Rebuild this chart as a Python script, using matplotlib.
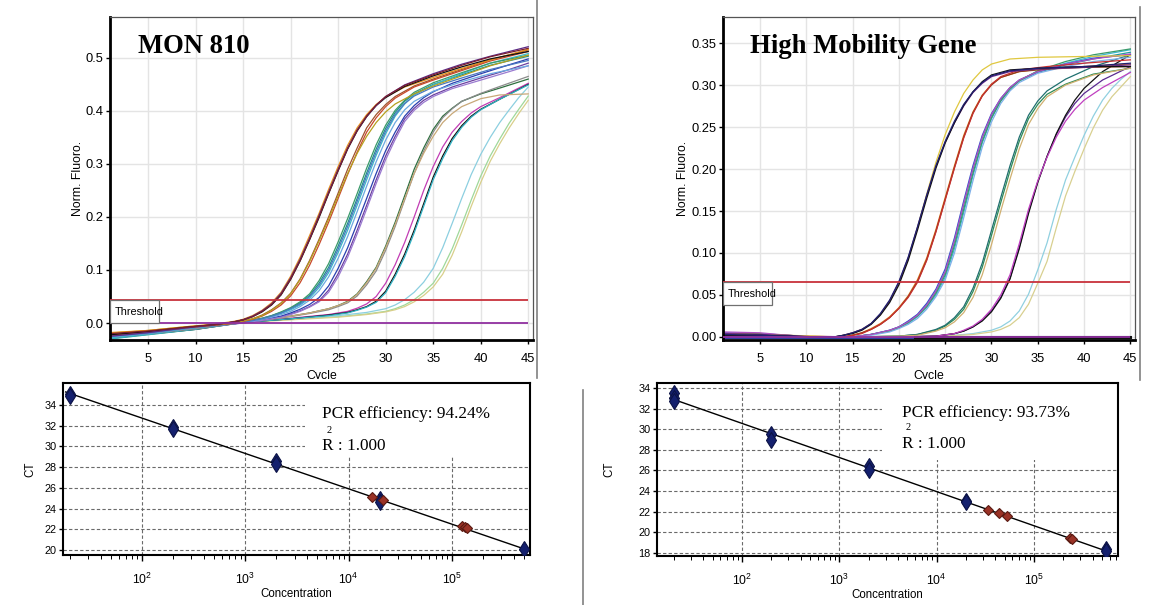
import numpy as np
import matplotlib
matplotlib.use("Agg")
import matplotlib.pyplot as plt
from matplotlib import font_manager
from matplotlib.patches import Rectangle
from matplotlib.lines import Line2D
from matplotlib.transforms import Bbox, TransformedBbox, blended_transform_factory


# ========================
# Datos: curvas de amplificacion MON 810 (ciclo, fluorescencia normalizada)
# ========================

CYCLE_FIRST, CYCLE_LAST = 1, 45

mon_threshold = 0.043

mon_cyc_a = [1, 5, 9, 12, 14, 15, 16, 17, 18, 19, 20, 21, 22, 23, 24, 25, 26, 27, 28, 29, 30, 32, 35, 38, 41, 45]
mon_a1 = [-0.018, -0.014, -0.007, -0.002, 0.003, 0.007, 0.014, 0.024, 0.038, 0.058, 0.088, 0.124, 0.165, 0.207, 0.252, 0.295, 0.335, 0.368, 0.393, 0.412, 0.426, 0.445, 0.463, 0.480, 0.496, 0.516]
mon_a2 = [-0.022, -0.016, -0.008, -0.003, 0.002, 0.006, 0.012, 0.021, 0.034, 0.053, 0.082, 0.117, 0.157, 0.199, 0.244, 0.287, 0.328, 0.362, 0.389, 0.410, 0.425, 0.446, 0.466, 0.483, 0.498, 0.512]
mon_a3 = [-0.025, -0.018, -0.009, -0.003, 0.002, 0.006, 0.013, 0.023, 0.036, 0.056, 0.085, 0.120, 0.160, 0.203, 0.247, 0.290, 0.330, 0.364, 0.390, 0.410, 0.427, 0.449, 0.470, 0.488, 0.503, 0.521]
mon_a4 = [-0.020, -0.015, -0.008, -0.003, 0.002, 0.006, 0.012, 0.022, 0.035, 0.054, 0.083, 0.118, 0.158, 0.201, 0.245, 0.288, 0.329, 0.363, 0.390, 0.411, 0.427, 0.448, 0.468, 0.486, 0.502, 0.518]

mon_cyc_b = [1, 5, 9, 12, 14, 16, 17, 18, 19, 20, 21, 22, 23, 24, 25, 26, 27, 28, 29, 30, 31, 33, 35, 38, 41, 45]
mon_b1 = [-0.020, -0.015, -0.008, -0.004, 0.000, 0.008, 0.015, 0.025, 0.038, 0.056, 0.083, 0.118, 0.158, 0.200, 0.245, 0.290, 0.330, 0.368, 0.393, 0.412, 0.427, 0.447, 0.460, 0.478, 0.496, 0.515]
mon_b2 = [-0.023, -0.017, -0.009, -0.004, -0.001, 0.007, 0.013, 0.022, 0.034, 0.051, 0.076, 0.109, 0.148, 0.190, 0.235, 0.280, 0.322, 0.360, 0.387, 0.408, 0.424, 0.445, 0.458, 0.476, 0.494, 0.512]
mon_b3 = [-0.019, -0.014, -0.007, -0.003, 0.000, 0.008, 0.014, 0.024, 0.037, 0.055, 0.082, 0.116, 0.155, 0.196, 0.240, 0.282, 0.320, 0.352, 0.378, 0.398, 0.413, 0.432, 0.447, 0.466, 0.485, 0.505]

mon_cyc_c = [1, 5, 9, 12, 15, 17, 18, 19, 20, 21, 22, 23, 24, 25, 26, 27, 28, 29, 30, 31, 32, 33, 35, 38, 41, 45]
mon_c1 = [-0.024, -0.018, -0.010, -0.005, 0.002, 0.009, 0.014, 0.020, 0.028, 0.038, 0.052, 0.075, 0.105, 0.145, 0.188, 0.235, 0.283, 0.328, 0.367, 0.397, 0.418, 0.432, 0.450, 0.468, 0.486, 0.503]
mon_c2 = [-0.028, -0.020, -0.011, -0.005, 0.001, 0.008, 0.012, 0.018, 0.025, 0.034, 0.047, 0.067, 0.095, 0.133, 0.175, 0.222, 0.270, 0.316, 0.357, 0.390, 0.413, 0.430, 0.449, 0.470, 0.490, 0.508]
mon_c3 = [-0.022, -0.017, -0.009, -0.004, 0.002, 0.009, 0.014, 0.021, 0.029, 0.040, 0.055, 0.080, 0.112, 0.153, 0.197, 0.244, 0.292, 0.336, 0.373, 0.401, 0.420, 0.435, 0.453, 0.472, 0.490, 0.505]
mon_c4 = [-0.026, -0.019, -0.010, -0.005, 0.001, 0.007, 0.011, 0.016, 0.022, 0.031, 0.043, 0.061, 0.087, 0.122, 0.163, 0.210, 0.258, 0.304, 0.345, 0.378, 0.402, 0.418, 0.437, 0.455, 0.470, 0.485]
mon_c5 = [-0.025, -0.019, -0.010, -0.005, 0.001, 0.008, 0.013, 0.019, 0.027, 0.036, 0.050, 0.071, 0.100, 0.139, 0.182, 0.229, 0.277, 0.322, 0.362, 0.393, 0.414, 0.428, 0.445, 0.462, 0.478, 0.495]

mon_cyc_d = [1, 5, 9, 12, 15, 17, 19, 20, 21, 22, 23, 24, 25, 26, 27, 28, 29, 30, 31, 32, 33, 34, 35, 37, 40, 43, 45]
mon_d1 = [-0.025, -0.018, -0.010, -0.005, 0.000, 0.005, 0.012, 0.017, 0.023, 0.031, 0.042, 0.062, 0.093, 0.130, 0.175, 0.222, 0.270, 0.315, 0.352, 0.385, 0.405, 0.420, 0.430, 0.445, 0.462, 0.478, 0.490]
mon_d2 = [-0.023, -0.017, -0.009, -0.004, 0.001, 0.006, 0.013, 0.019, 0.026, 0.035, 0.048, 0.070, 0.103, 0.142, 0.188, 0.235, 0.282, 0.325, 0.360, 0.390, 0.410, 0.425, 0.436, 0.452, 0.470, 0.487, 0.498]
mon_d3 = [-0.027, -0.020, -0.011, -0.005, 0.000, 0.005, 0.011, 0.016, 0.022, 0.030, 0.040, 0.058, 0.087, 0.124, 0.168, 0.215, 0.263, 0.308, 0.346, 0.380, 0.401, 0.416, 0.427, 0.442, 0.458, 0.474, 0.485]

mon_cyc_e = [1, 5, 10, 15, 18, 20, 22, 24, 25, 26, 27, 28, 29, 30, 31, 32, 33, 34, 35, 36, 37, 38, 40, 42, 45]
mon_e1 = [-0.026, -0.019, -0.010, 0.002, 0.008, 0.013, 0.019, 0.027, 0.033, 0.041, 0.055, 0.078, 0.105, 0.145, 0.190, 0.240, 0.290, 0.330, 0.365, 0.390, 0.405, 0.418, 0.432, 0.443, 0.460]
mon_e2 = [-0.028, -0.020, -0.011, 0.001, 0.007, 0.012, 0.018, 0.025, 0.031, 0.038, 0.051, 0.072, 0.098, 0.137, 0.182, 0.232, 0.282, 0.324, 0.360, 0.387, 0.404, 0.418, 0.433, 0.446, 0.465]
mon_e3 = [-0.024, -0.018, -0.009, 0.002, 0.008, 0.013, 0.019, 0.027, 0.033, 0.040, 0.054, 0.076, 0.103, 0.142, 0.186, 0.234, 0.282, 0.320, 0.352, 0.378, 0.395, 0.408, 0.423, 0.430, 0.432]

mon_cyc_f = [1, 5, 10, 15, 20, 24, 26, 27, 28, 29, 30, 31, 32, 33, 34, 35, 36, 37, 38, 39, 40, 42, 45]
mon_f1 = [-0.027, -0.020, -0.011, 0.002, 0.009, 0.016, 0.022, 0.028, 0.036, 0.050, 0.075, 0.110, 0.152, 0.200, 0.250, 0.295, 0.332, 0.360, 0.380, 0.396, 0.408, 0.425, 0.452]
mon_f2 = [-0.029, -0.021, -0.012, 0.001, 0.008, 0.015, 0.020, 0.025, 0.031, 0.041, 0.060, 0.092, 0.130, 0.175, 0.225, 0.275, 0.315, 0.348, 0.372, 0.390, 0.403, 0.422, 0.450]
mon_f3 = [-0.030, -0.022, -0.012, 0.001, 0.008, 0.014, 0.019, 0.024, 0.030, 0.039, 0.057, 0.088, 0.125, 0.170, 0.220, 0.270, 0.310, 0.344, 0.369, 0.388, 0.402, 0.422, 0.449]

mon_cyc_g = [1, 5, 10, 15, 20, 25, 28, 30, 31, 32, 33, 34, 35, 36, 37, 38, 39, 40, 41, 42, 43, 44, 45]
mon_g1 = [-0.030, -0.022, -0.012, 0.002, 0.007, 0.012, 0.017, 0.022, 0.027, 0.034, 0.044, 0.058, 0.075, 0.103, 0.140, 0.185, 0.232, 0.277, 0.315, 0.347, 0.377, 0.403, 0.428]
mon_g2 = [-0.028, -0.021, -0.011, 0.001, 0.006, 0.011, 0.016, 0.021, 0.025, 0.031, 0.040, 0.052, 0.068, 0.092, 0.128, 0.172, 0.220, 0.265, 0.305, 0.338, 0.368, 0.395, 0.420]
mon_g3 = [-0.029, -0.021, -0.011, 0.002, 0.008, 0.014, 0.020, 0.027, 0.034, 0.044, 0.058, 0.077, 0.103, 0.142, 0.188, 0.235, 0.280, 0.318, 0.350, 0.378, 0.402, 0.425, 0.445]


# ========================
# Datos: curvas de amplificacion High Mobility Gene
# ========================

hmg_threshold = 0.065

hmg_cyc_1 = [1, 5, 8, 11, 13, 14, 15, 16, 17, 18, 19, 20, 21, 22, 23, 24, 25, 26, 27, 28, 29, 30, 32, 35, 40, 45]
hmg_1a = [0.004, 0.003, 0.002, 0.000, 0.000, 0.002, 0.005, 0.009, 0.016, 0.027, 0.043, 0.065, 0.094, 0.130, 0.168, 0.203, 0.232, 0.255, 0.275, 0.291, 0.302, 0.310, 0.316, 0.319, 0.321, 0.324]
hmg_1b = [0.002, 0.002, 0.001, 0.000, 0.000, 0.002, 0.004, 0.008, 0.015, 0.026, 0.041, 0.062, 0.091, 0.127, 0.165, 0.201, 0.231, 0.255, 0.276, 0.292, 0.304, 0.312, 0.318, 0.320, 0.322, 0.322]
hmg_1c = [0.003, 0.003, 0.002, 0.001, 0.000, 0.002, 0.005, 0.009, 0.016, 0.027, 0.043, 0.064, 0.093, 0.130, 0.170, 0.208, 0.241, 0.268, 0.290, 0.306, 0.318, 0.325, 0.331, 0.333, 0.334, 0.335]
hmg_1d = [0.003, 0.002, 0.001, 0.000, 0.000, 0.002, 0.005, 0.009, 0.016, 0.028, 0.044, 0.066, 0.095, 0.131, 0.169, 0.204, 0.233, 0.257, 0.277, 0.292, 0.303, 0.311, 0.317, 0.320, 0.322, 0.326]

hmg_cyc_2 = [1, 5, 8, 11, 14, 15, 16, 17, 18, 19, 20, 21, 22, 23, 24, 25, 26, 27, 28, 29, 30, 31, 33, 36, 40, 45]
hmg_2a = [0.003, 0.003, 0.001, 0.000, 0.000, 0.002, 0.005, 0.010, 0.016, 0.024, 0.035, 0.049, 0.068, 0.094, 0.128, 0.166, 0.204, 0.240, 0.268, 0.288, 0.301, 0.309, 0.316, 0.320, 0.322, 0.325]
hmg_2b = [0.004, 0.003, 0.001, 0.000, 0.000, 0.002, 0.005, 0.009, 0.015, 0.023, 0.034, 0.048, 0.066, 0.092, 0.126, 0.164, 0.202, 0.238, 0.267, 0.287, 0.300, 0.309, 0.316, 0.319, 0.321, 0.322]
hmg_2c = [0.002, 0.002, 0.001, 0.000, 0.000, 0.002, 0.004, 0.009, 0.015, 0.023, 0.034, 0.047, 0.065, 0.091, 0.125, 0.163, 0.201, 0.237, 0.266, 0.287, 0.301, 0.310, 0.318, 0.322, 0.326, 0.330]

hmg_cyc_3 = [1, 5, 8, 11, 15, 17, 19, 20, 21, 22, 23, 24, 25, 26, 27, 28, 29, 30, 31, 32, 33, 35, 38, 41, 45]
hmg_3a = [0.004, 0.003, 0.001, 0.000, 0.000, 0.003, 0.008, 0.012, 0.018, 0.026, 0.038, 0.054, 0.077, 0.113, 0.157, 0.200, 0.237, 0.264, 0.283, 0.296, 0.305, 0.315, 0.324, 0.331, 0.339]
hmg_3b = [0.003, 0.002, 0.001, 0.000, 0.000, 0.003, 0.007, 0.011, 0.016, 0.024, 0.035, 0.050, 0.071, 0.105, 0.148, 0.192, 0.231, 0.260, 0.281, 0.295, 0.305, 0.316, 0.326, 0.334, 0.342]
hmg_3c = [0.005, 0.004, 0.002, 0.000, 0.000, 0.003, 0.008, 0.012, 0.019, 0.027, 0.040, 0.057, 0.081, 0.118, 0.162, 0.204, 0.240, 0.266, 0.284, 0.297, 0.306, 0.316, 0.325, 0.332, 0.336]
hmg_3d = [0.003, 0.003, 0.001, 0.000, 0.000, 0.003, 0.007, 0.011, 0.017, 0.025, 0.036, 0.052, 0.074, 0.109, 0.152, 0.195, 0.233, 0.261, 0.281, 0.295, 0.305, 0.317, 0.328, 0.336, 0.343]
hmg_3e = [0.004, 0.003, 0.001, 0.000, 0.000, 0.002, 0.006, 0.010, 0.015, 0.022, 0.033, 0.048, 0.068, 0.100, 0.142, 0.186, 0.226, 0.256, 0.278, 0.293, 0.303, 0.314, 0.322, 0.328, 0.333]
hmg_3f = [0.006, 0.005, 0.002, 0.000, 0.000, 0.003, 0.008, 0.012, 0.018, 0.026, 0.038, 0.055, 0.078, 0.115, 0.159, 0.201, 0.238, 0.265, 0.284, 0.297, 0.306, 0.316, 0.325, 0.331, 0.337]

hmg_cyc_4 = [1, 5, 10, 15, 20, 22, 24, 25, 26, 27, 28, 29, 30, 31, 32, 33, 34, 35, 36, 38, 41, 45]
hmg_4a = [0.003, 0.002, 0.000, 0.000, 0.001, 0.003, 0.008, 0.013, 0.021, 0.033, 0.054, 0.083, 0.121, 0.160, 0.198, 0.233, 0.260, 0.277, 0.289, 0.301, 0.313, 0.320]
hmg_4b = [0.002, 0.002, 0.000, 0.000, 0.001, 0.003, 0.009, 0.014, 0.023, 0.036, 0.058, 0.088, 0.127, 0.166, 0.204, 0.238, 0.264, 0.281, 0.293, 0.307, 0.322, 0.336]
hmg_4c = [0.004, 0.003, 0.001, 0.000, 0.001, 0.002, 0.007, 0.011, 0.018, 0.029, 0.047, 0.074, 0.110, 0.150, 0.188, 0.224, 0.253, 0.272, 0.286, 0.300, 0.312, 0.320]

hmg_cyc_5 = [1, 5, 10, 15, 20, 24, 26, 27, 28, 29, 30, 31, 32, 33, 34, 35, 36, 37, 38, 39, 40, 42, 45]
hmg_5a = [0.003, 0.002, 0.000, 0.000, 0.000, 0.001, 0.004, 0.007, 0.012, 0.020, 0.031, 0.047, 0.070, 0.107, 0.149, 0.185, 0.215, 0.241, 0.262, 0.278, 0.290, 0.306, 0.322]
hmg_5b = [0.002, 0.001, 0.000, 0.000, 0.000, 0.001, 0.004, 0.007, 0.012, 0.019, 0.030, 0.046, 0.069, 0.105, 0.147, 0.184, 0.215, 0.242, 0.264, 0.282, 0.296, 0.316, 0.336]
hmg_5c = [0.004, 0.003, 0.001, 0.000, 0.000, 0.001, 0.004, 0.008, 0.013, 0.021, 0.033, 0.050, 0.074, 0.111, 0.152, 0.186, 0.214, 0.238, 0.257, 0.271, 0.282, 0.297, 0.315]

hmg_cyc_6 = [1, 5, 10, 15, 20, 25, 28, 30, 31, 32, 33, 34, 35, 36, 37, 38, 39, 40, 41, 42, 43, 44, 45]
hmg_6a = [0.003, 0.002, 0.000, 0.000, 0.000, 0.001, 0.004, 0.008, 0.012, 0.019, 0.031, 0.051, 0.080, 0.112, 0.152, 0.187, 0.214, 0.240, 0.263, 0.282, 0.296, 0.307, 0.316]
hmg_6b = [0.002, 0.002, 0.000, 0.000, 0.000, 0.001, 0.003, 0.006, 0.009, 0.014, 0.023, 0.039, 0.064, 0.090, 0.130, 0.168, 0.197, 0.224, 0.249, 0.270, 0.286, 0.298, 0.310]

# controles sin amplificacion
hmg_ntc_cyc = [1, 45]
hmg_ntc = [0.0005, 0.0005]
hmg_ntc2_cyc = [21.7, 45]
hmg_ntc2 = [0.0, 0.0]


# ========================
# Datos: curvas estandar
# ========================

mon_std_conc = [20, 20, 200, 200, 2000, 2000, 20000, 20000, 500000]
mon_std_ct = [35.1, 34.9, 31.9, 31.7, 28.6, 28.3, 24.9, 24.6, 20.1]
mon_unk_conc = [17000, 21500, 125000, 133000, 140000]
mon_unk_ct = [25.1, 24.85, 22.3, 22.2, 22.1]
mon_eff = "94.24%"
mon_r2 = "1.000"

hmg_std_conc = [20, 20, 20, 200, 200, 2000, 2000, 20000, 20000, 550000, 550000]
hmg_std_ct = [33.5, 33.0, 32.7, 29.5, 29.0, 26.4, 26.0, 23.0, 22.9, 18.4, 18.2]
hmg_unk_conc = [34000, 44000, 53000, 235000, 245000]
hmg_unk_ct = [22.2, 21.9, 21.6, 19.5, 19.4]
hmg_eff = "93.73%"
hmg_r2 = "1.000"


# ========================
# Estilos
# ========================

_names = {f.name for f in font_manager.fontManager.ttflist}
NARROW = "Liberation Sans Narrow" if "Liberation Sans Narrow" in _names else "Liberation Sans"
TICK_SIZE = 10.5 if NARROW == "Liberation Sans Narrow" else 9.3
SMALL_SIZE = 8.5 if NARROW == "Liberation Sans Narrow" else 7.8
SERIF = "Liberation Serif"

mon_curves = [
    (mon_cyc_g, mon_g1, "#9fd89a"), (mon_cyc_g, mon_g2, "#d8cf8a"), (mon_cyc_g, mon_g3, "#8ccfe0"),
    (mon_cyc_f, mon_f1, "#c23cb4"), (mon_cyc_f, mon_f2, "#111111"), (mon_cyc_f, mon_f3, "#2fb0c2"),
    (mon_cyc_e, mon_e1, "#2f6f3f"), (mon_cyc_e, mon_e2, "#8c8c8c"), (mon_cyc_e, mon_e3, "#c8a878"),
    (mon_cyc_d, mon_d1, "#6b3fa0"), (mon_cyc_d, mon_d2, "#2a3fb0"), (mon_cyc_d, mon_d3, "#9a7ad0"),
    (mon_cyc_c, mon_c1, "#1f8f8f"), (mon_cyc_c, mon_c2, "#3cb8c8"), (mon_cyc_c, mon_c3, "#3a9a6a"),
    (mon_cyc_c, mon_c4, "#6aa8e0"), (mon_cyc_c, mon_c5, "#4a78c0"),
    (mon_cyc_b, mon_b1, "#a0522d"), (mon_cyc_b, mon_b2, "#c8482a"), (mon_cyc_b, mon_b3, "#b5a020"),
    (mon_cyc_a, mon_a1, "#e8901a"), (mon_cyc_a, mon_a2, "#111111"), (mon_cyc_a, mon_a3, "#5b2a86"),
    (mon_cyc_a, mon_a4, "#7b1e2e"),
]

hmg_curves = [
    (hmg_ntc_cyc, hmg_ntc, "#3040a0"),
    (hmg_cyc_6, hmg_6a, "#90d0e0"), (hmg_cyc_6, hmg_6b, "#d8d090"),
    (hmg_cyc_5, hmg_5a, "#5a2a90"), (hmg_cyc_5, hmg_5b, "#111111"), (hmg_cyc_5, hmg_5c, "#c040c0"),
    (hmg_cyc_4, hmg_4a, "#2e8b57"), (hmg_cyc_4, hmg_4b, "#1f6f6f"), (hmg_cyc_4, hmg_4c, "#d0b070"),
    (hmg_cyc_3, hmg_3a, "#1f9e9e"), (hmg_cyc_3, hmg_3b, "#3cb8d0"), (hmg_cyc_3, hmg_3c, "#3050c8"),
    (hmg_cyc_3, hmg_3d, "#3a9a6a"), (hmg_cyc_3, hmg_3e, "#7fb0e8"), (hmg_cyc_3, hmg_3f, "#b050c0"),
    (hmg_cyc_2, hmg_2a, "#e07a20"), (hmg_cyc_2, hmg_2b, "#8b3a1a"), (hmg_cyc_2, hmg_2c, "#c83030"),
    (hmg_cyc_1, hmg_1c, "#e0c840"), (hmg_cyc_1, hmg_1a, "#6a2a8a"), (hmg_cyc_1, hmg_1b, "#111111"),
    (hmg_cyc_1, hmg_1d, "#202070"),
    (hmg_ntc2_cyc, hmg_ntc2, "#111111"),
]


# ========================
# Funciones de graficado
# ========================

W, H = 1166, 605
fig = plt.figure(figsize=(W / 100, H / 100), dpi=100)


def ejes_px(izq, arriba, der, abajo):
    return fig.add_axes([izq / W, 1 - abajo / H, (der - izq) / W, (abajo - arriba) / H])


def panel_amplificacion(ax, curvas, umbral, ylim, yticks, yfmt, titulo, caja_y0, caja_ancho, ylab_x):
    for cyc, vals, col in curvas:
        lw = 2.2 if len(cyc) == 2 else 0.9
        ax.plot(cyc, vals, color=col, lw=lw, zorder=2, solid_joinstyle="round")
    ax.hlines(umbral, CYCLE_FIRST, CYCLE_LAST, color="#c8323c", lw=1.3, zorder=3)
    ax.hlines(0.0, CYCLE_FIRST, CYCLE_LAST, color="#9030a0", lw=1.3, zorder=3)

    trans = blended_transform_factory(ax.transAxes, ax.transData)
    ax.add_patch(Rectangle((0, caja_y0), caja_ancho, umbral - caja_y0, transform=trans,
                           facecolor="white", edgecolor="#707070", lw=0.9, zorder=4))
    ax.text(0.012, (caja_y0 + umbral) / 2, "Threshold", transform=trans, va="center", ha="left",
            family=NARROW, fontsize=SMALL_SIZE, zorder=5)

    ax.set_xlim(1, 45.5)
    ax.set_ylim(*ylim)
    ax.set_xticks(range(5, 46, 5))
    ax.set_yticks(yticks)
    ax.set_yticklabels([yfmt.format(v) for v in yticks])
    ax.grid(True, color="#e4e4e4", lw=1)
    ax.set_axisbelow(True)
    for lado in ("left", "bottom"):
        ax.spines[lado].set_linewidth(2)
        ax.spines[lado].set_color("black")
    for lado in ("top", "right"):
        ax.spines[lado].set_linewidth(0.9)
        ax.spines[lado].set_color("#555555")
    ax.tick_params(direction="out", length=3, width=1, pad=1.5, labelsize=TICK_SIZE)
    ax.tick_params(axis="x", pad=6)
    for lab in ax.get_xticklabels() + ax.get_yticklabels():
        lab.set_family(NARROW)

    ax.set_ylabel("Norm. Fluoro.", family=NARROW, fontsize=TICK_SIZE - 0.5)
    ax.yaxis.set_label_coords(ylab_x, 0.5)
    etiqueta = ax.text(0.5, -0.092, "Cycle", transform=ax.transAxes, ha="center", va="top",
                       family=NARROW, fontsize=TICK_SIZE - 0.5)
    etiqueta.set_clip_box(TransformedBbox(Bbox.from_extents(0, (H - 379) / H, 1, 1), fig.transFigure))
    etiqueta.set_clip_on(True)

    ax.text(0.066, 0.889, titulo, transform=ax.transAxes, family=SERIF, fontweight="bold",
            fontsize=19.2, ha="left", va="baseline", zorder=6)


def panel_estandar(ax, conc, ct, conc_u, ct_u, xlim, ylim, yticks, eff, r2, pos_txt, pos_dos, caja, ylab_x):
    ax.set_xscale("log")
    lx = np.log10(conc)
    pendiente, intercepto = np.polyfit(lx, ct, 1)
    xs = np.logspace(lx.min() - 0.04, lx.max(), 60)
    ax.plot(xs, pendiente * np.log10(xs) + intercepto, color="black", lw=1, zorder=3)
    ax.plot(conc, ct, "d", ms=8, mfc="#14206e", mec="#0b1245", mew=0.8, zorder=4, ls="none")
    ax.plot(conc_u, ct_u, "D", ms=5.2, mfc="#9a3226", mec="#5a1a12", mew=0.8, zorder=5, ls="none")

    ax.set_xlim(*xlim)
    ax.set_ylim(*ylim)
    ax.set_yticks(yticks)
    ax.grid(True, which="major", ls=(0, (3, 2)), color="#6a6a6a", lw=0.8)
    ax.set_axisbelow(True)
    ax.add_patch(Rectangle((caja[0], caja[1]), 1 - caja[0], 1 - caja[1], transform=ax.transAxes,
                           facecolor="white", edgecolor="none", zorder=1))
    for sp in ax.spines.values():
        sp.set_linewidth(1.5)
        sp.set_color("black")
    ax.tick_params(which="major", direction="out", length=3, width=1, pad=1.5, labelsize=SMALL_SIZE)
    ax.tick_params(axis="x", which="major", length=4, pad=8, labelsize=SMALL_SIZE + 1)
    ax.tick_params(axis="x", which="minor", direction="out", length=3, width=0.7)
    for lab in ax.get_xticklabels() + ax.get_yticklabels():
        lab.set_family(NARROW)

    ax.set_ylabel("CT", family=NARROW, fontsize=SMALL_SIZE + 0.5)
    ax.yaxis.set_label_coords(ylab_x, 0.5)
    ax.set_xlabel("Concentration", family=NARROW, fontsize=SMALL_SIZE + 0.5)
    ax.xaxis.set_label_coords(0.5, -0.19)

    ax.text(pos_txt[0], pos_txt[1], f"PCR efficiency: {eff}", transform=ax.transAxes,
            family=SERIF, fontsize=12.4, ha="left", va="baseline", zorder=6)
    ax.text(pos_txt[0], pos_txt[2], f"R : {r2}", transform=ax.transAxes,
            family=SERIF, fontsize=12.4, ha="left", va="baseline", zorder=6)
    ax.text(pos_dos[0], pos_dos[1], "2", transform=ax.transAxes,
            family=SERIF, fontsize=7.5, ha="center", va="baseline", zorder=6)


# ========================
# Ejecucion
# ========================

ax1 = ejes_px(110, 17, 533, 340)
panel_amplificacion(ax1, mon_curves, mon_threshold, (-0.032, 0.577),
                    [0.0, 0.1, 0.2, 0.3, 0.4, 0.5], "{:.1f}", "MON 810", 0.0, 0.116, -0.062)

ax2 = ejes_px(723, 17, 1135, 340)
panel_amplificacion(ax2, hmg_curves, hmg_threshold, (-0.0036, 0.381),
                    [0.0, 0.05, 0.10, 0.15, 0.20, 0.25, 0.30, 0.35], "{:.2f}",
                    "High Mobility Gene", 0.038, 0.119, -0.083)

ax3 = ejes_px(63, 383, 530, 555)
panel_estandar(ax3, mon_std_conc, mon_std_ct, mon_unk_conc, mon_unk_ct,
               (17.2, 5.7e5), (19.52, 36.12), list(range(20, 35, 2)), mon_eff, mon_r2,
               (0.555, 0.797, 0.61), (0.569, 0.712), (0.518, 0.57), -0.056)

ax4 = ejes_px(657, 383, 1118, 556)
panel_estandar(ax4, hmg_std_conc, hmg_std_ct, hmg_unk_conc, hmg_unk_ct,
               (13.4, 7.3e5), (17.71, 34.48), list(range(18, 35, 2)), hmg_eff, hmg_r2,
               (0.531, 0.803, 0.624), (0.545, 0.726), (0.488, 0.555), -0.091)

# lineas separadoras de las capturas
for x, y0, y1 in [(537, 0, 378), (1140, 7, 380), (583, 390, 605)]:
    fig.add_artist(Line2D([x / W, x / W], [1 - y0 / H, 1 - y1 / H], transform=fig.transFigure,
                          color="#808080", lw=1.2))

fig.savefig("out.png", dpi=100)
